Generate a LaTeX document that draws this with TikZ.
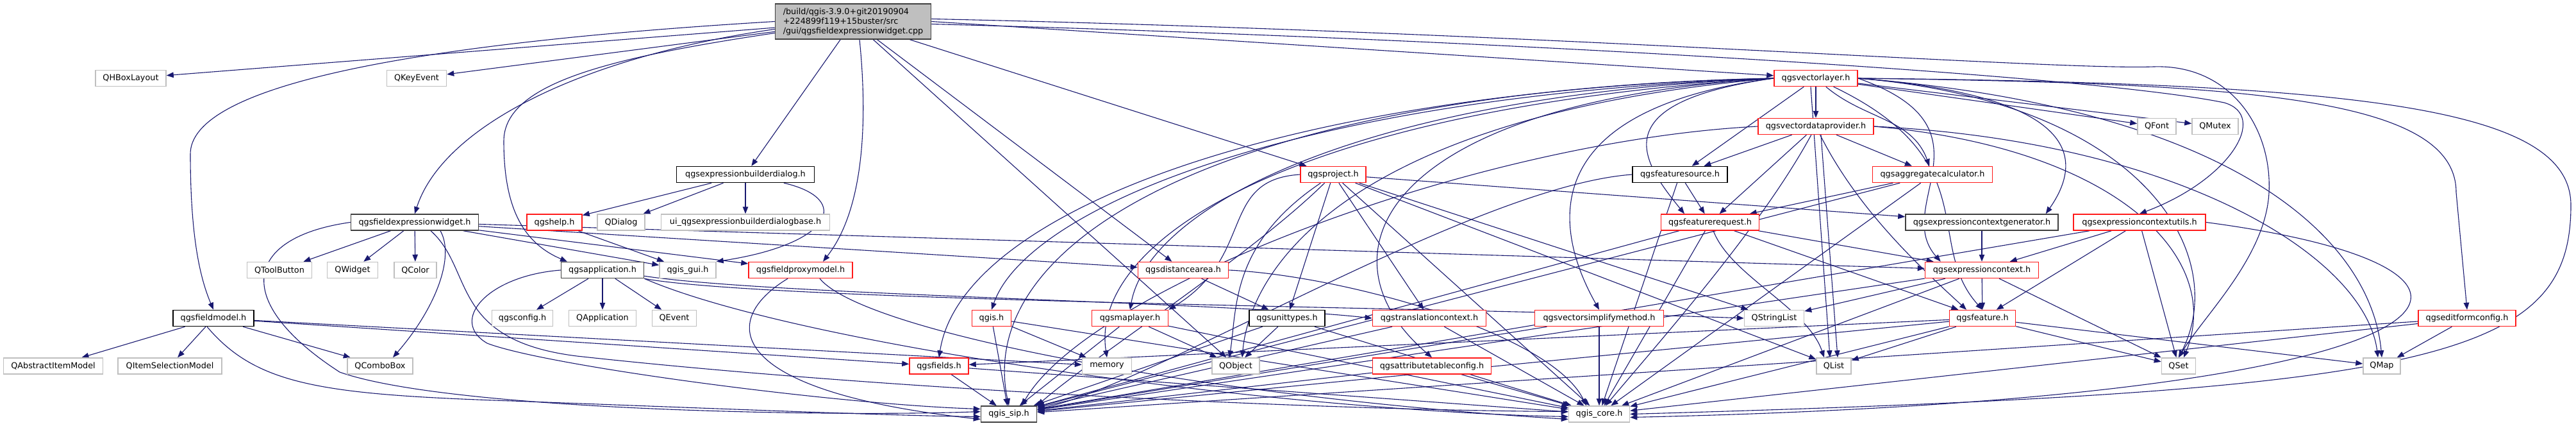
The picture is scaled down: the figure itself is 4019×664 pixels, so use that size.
\documentclass[tikz,border=0pt]{standalone}
\usepackage{fontspec}
\setmainfont{DejaVu Sans}
\usetikzlibrary{arrows.meta}
\pgfdeclarelayer{bglayer}
\pgfdeclarelayer{edgelayer}
\pgfsetlayers{bglayer,edgelayer,main}
\definecolor{edgec}{HTML}{191970}
\definecolor{gborder}{HTML}{BFBFBF}
\definecolor{rborder}{HTML}{FF1A1A}
\definecolor{dborder}{HTML}{404040}
\definecolor{rootfill}{HTML}{BFBFBF}
\newcommand\gvfont{\fontsize{12.8}{15}\selectfont}
\tikzset{
  nb/.style={draw=black, fill=white, line width=1.5pt, minimum height=25pt, inner sep=0pt, font=\gvfont},
  nr/.style={nb, draw=rborder},
  ng/.style={nb, draw=gborder},
  nd/.style={nb, draw=dborder},
  e/.style={draw=edgec, line width=1.1pt, -{Triangle[length=11pt,width=8.5pt]}}
}
\begin{document}
\begin{tikzpicture}[x=1pt,y=-1pt]
\begin{pgfonlayer}{bglayer}
\fill[white] (0,0) rectangle (4019,664);
\end{pgfonlayer}
\useasboundingbox (0,0) rectangle (4019,664);
% nodes
\node[nd, fill=rootfill, minimum width=243pt, minimum height=55pt, align=left] (root) at (1331,33.5) {/build/qgis-3.9.0+git20190904\\+224899f119+15buster/src\\/gui/qgsfieldexpressionwidget.cpp};
\node[ng, minimum width=110pt] (hbox) at (204,122) {QHBoxLayout};
\node[ng, minimum width=93pt] (keyev) at (650,122) {QKeyEvent};
\node[nr, minimum width=130pt] (vlayer) at (2833,122) {qgsvectorlayer.h};
\node[ng, minimum width=60pt] (qfont) at (3365,197) {QFont};
\node[ng, minimum width=72pt] (qmutex) at (3456,197) {QMutex};
\node[nr, minimum width=180pt] (vdp) at (2833,197) {qgsvectordataprovider.h};
\node[nb, minimum width=215pt] (bdlg) at (1163,272) {qgsexpressionbuilderdialog.h};
\node[nr, minimum width=102pt] (proj) at (2080,272) {qgsproject.h};
\node[nb, minimum width=148pt] (fsrc) at (2621,272) {qgsfeaturesource.h};
\node[nr, minimum width=187pt] (aggr) at (3015,272) {qgsaggregatecalculator.h};
\node[nd, minimum width=199pt] (few) at (647,346.5) {qgsfieldexpressionwidget.h};
\node[nr, minimum width=86pt] (help) at (865,346.5) {qgshelp.h};
\node[ng, minimum width=74pt] (qdialog) at (969,346.5) {QDialog};
\node[ng, minimum width=263pt] (uibase) at (1163,346.5) {ui\_qgsexpressionbuilderdialogbase.h};
\node[nr, minimum width=153pt] (freq) at (2668,346.5) {qgsfeaturerequest.h};
\node[nd, minimum width=238pt] (ecgen) at (3092,346.5) {qgsexpressioncontextgenerator.h};
\node[nr, minimum width=206pt] (ecutil) at (3338,346.5) {qgsexpressioncontextutils.h};
\node[ng, minimum width=101pt] (tbtn) at (436,421) {QToolButton};
\node[ng, minimum width=79pt] (qwidget) at (550,421) {QWidget};
\node[ng, minimum width=66pt] (qcolor) at (648,421) {QColor};
\node[nd, minimum width=129pt] (app) at (940,421) {qgsapplication.h};
\node[ng, minimum width=88pt] (gui) at (1073,421) {qgis\_gui.h};
\node[nr, minimum width=162pt] (fpm) at (1249,421) {qgsfieldproxymodel.h};
\node[nr, minimum width=141pt] (darea) at (1846,421) {qgsdistancearea.h};
\node[nr, minimum width=177pt] (ectx) at (3092,421) {qgsexpressioncontext.h};
\node[nb, minimum width=126pt] (fmodel) at (333,496) {qgsfieldmodel.h};
\node[ng, minimum width=95pt] (cfg) at (815,496) {qgsconfig.h};
\node[ng, minimum width=105pt] (qapp) at (940,496) {QApplication};
\node[ng, minimum width=69pt] (qevent) at (1052,496) {QEvent};
\node[nr, minimum width=61pt] (qgis) at (1547,496) {qgis.h};
\node[nr, minimum width=119pt] (mlayer) at (1763,496) {qgsmaplayer.h};
\node[nb, minimum width=118pt] (utypes) at (2008,496) {qgsunittypes.h};
\node[nr, minimum width=177pt] (tctx) at (2230,496) {qgstranslationcontext.h};
\node[nr, minimum width=201pt] (vsm) at (2495,496) {qgsvectorsimplifymethod.h};
\node[ng, minimum width=93pt] (qsl) at (2768,496) {QStringList};
\node[nr, minimum width=103pt] (feat) at (3093,496) {qgsfeature.h};
\node[nr, minimum width=152pt] (efc) at (3849,496) {qgseditformconfig.h};
\node[ng, minimum width=155pt] (aim) at (83,570.5) {QAbstractItemModel};
\node[ng, minimum width=162pt] (ism) at (265,570.5) {QItemSelectionModel};
\node[ng, minimum width=102pt] (combo) at (593,570.5) {QComboBox};
\node[nr, minimum width=92pt] (fields) at (1465,570.5) {qgsfields.h};
\node[ng, minimum width=77pt] (memory) at (1727,570.5) {memory};
\node[ng, minimum width=74pt] (qobject) at (1928,570.5) {QObject};
\node[nr, minimum width=185pt] (atc) at (2234,570.5) {qgsattributetableconfig.h};
\node[ng, minimum width=54pt] (qlist) at (2861,570.5) {QList};
\node[ng, minimum width=53pt] (qset) at (3399,570.5) {QSet};
\node[ng, minimum width=58pt] (qmap) at (3716,570.5) {QMap};
\node[nd, minimum width=87pt] (sip) at (1574,645.5) {qgis\_sip.h};
\node[ng, minimum width=95pt] (core) at (2495,645.5) {qgis\_core.h};

\begin{pgfonlayer}{edgelayer}
% root
\draw[e] (root) -- (hbox);
\draw[e] (root) -- (keyev);
\draw[e] (root.west) .. controls (600,70) and (297,140) .. (297,240) .. controls (297,380) and (315,440) .. (fmodel.north);
\draw[e] ([yshift=-12pt]root.west) .. controls (900,90) and (690,200) .. (few.north);
\draw[e] ([yshift=-18pt]root.west) .. controls (950,90) and (786,130) .. (786,220) .. controls (786,330) and (820,380) .. ([xshift=-55pt]app.north);
\draw[e] (root) -- (bdlg);
\draw[e] ([xshift=10pt]root.south) .. controls (1355,200) and (1345,330) .. ([xshift=35pt]fpm.north);
\draw[e] (root) -- (qobject);
\draw[e] (root) -- (darea);
\draw[e] (root) -- (proj);
\draw[e] (root.east) -- (vlayer);
\draw[e] ([yshift=-4pt]root.east) .. controls (2300,60) and (3250,115) .. (3470,160) .. controls (3540,180) and (3480,280) .. (ecutil.north);
\draw[e] ([yshift=4pt]root.east) .. controls (2400,50) and (3200,110) .. (3360,104) .. controls (3480,100) and (3545,200) .. (3540,300) .. controls (3535,400) and (3440,490) .. (qset.north);
% builder dialog
\draw[e] (bdlg) -- (help);
\draw[e] (bdlg) -- (qdialog);
\draw[e] (bdlg) -- (uibase);
\draw[e] ([xshift=60pt]bdlg.south) .. controls (1330,310) and (1300,380) .. (gui.north east);
\draw[e] (help) -- (gui);
% field expression widget
\draw[e] (few) -- (tbtn);
\draw[e] (few) -- (qwidget);
\draw[e] (few) -- (qcolor);
\draw[e] ([xshift=40pt]few.south) .. controls (710,400) and (680,480) .. ([xshift=20pt]combo.north);
\draw[e] (few) -- (gui);
\draw[e] (few) -- (fpm);
\draw[e] (few) -- (darea);
\draw[e] (few) -- (ectx);
\draw[e] (few.west) .. controls (380,370) and (360,470) .. (530,580) .. controls (700,640) and (1300,650) .. ([yshift=4pt]sip.west);
\draw[e] ([xshift=25pt]few.south) .. controls (740,420) and (700,530) .. (900,555) .. controls (1400,610) and (2100,640) .. ([yshift=4pt]core.west);
% field model
\draw[e] (fmodel) -- (aim);
\draw[e] (fmodel) -- (ism);
\draw[e] (fmodel) -- (combo);
\draw[e] (fmodel) -- (fields);
\draw[e] (fmodel) -- (memory);
\draw[e] ([xshift=-10pt]fmodel.south) .. controls (400,600) and (500,615) .. (800,625) .. controls (1200,640) and (1400,648) .. ([yshift=-4pt]sip.west);
% application
\draw[e] (app) -- (cfg);
\draw[e] (app) -- (qapp);
\draw[e] (app) -- (qevent);
\draw[e] (app.south east) .. controls (1200,470) and (2300,480) .. (qsl.west);
\draw[e] ([yshift=4pt]app.south east) .. controls (1200,460) and (1900,470) .. (tctx.west);
\draw[e] (app.west) .. controls (760,430) and (700,500) .. (760,535) .. controls (850,570) and (1300,630) .. ([yshift=8pt]sip.west);
\draw[e] (app.south east) .. controls (1250,540) and (2000,640) .. ([yshift=-4pt]core.west);
% field proxy model
\draw[e] ([xshift=-20pt]fpm.south) .. controls (1120,500) and (1130,610) .. ([yshift=-8pt]sip.west);
\draw[e] ([xshift=30pt]fpm.south) .. controls (1350,520) and (1900,620) .. ([yshift=-8pt]core.west);
% distance area
\draw[e] (darea) -- (utypes);
\draw[e] (darea.east) .. controls (2100,430) and (2420,520) .. ([xshift=-20pt]core.north);
% project
\draw[e] (proj) -- (utypes);
\draw[e] (proj) -- (tctx);
\draw[e] (proj) .. controls (1920,380) and (1930,480) .. ([xshift=-10pt]qobject.north);
\draw[e] (proj.west) .. controls (1900,280) and (1960,400) .. (mlayer.north east);
\draw[e] (proj) -- (ecgen);
\draw[e] (proj) -- (core);
\draw[e] (proj) .. controls (1950,400) and (1700,560) .. (sip.north east);
\draw[e] (proj) -- (qsl);
\draw[e] (proj) -- (qlist);
% vector layer
\draw[e] (vlayer) -- (vdp);
\draw[e] (vlayer) -- (fsrc);
\draw[e] (vlayer) to[out=-40,in=110] (aggr);
\draw[e] (vlayer.west) .. controls (2500,160) and (2560,250) .. ([xshift=-40pt]freq.north);
\draw[e] (vlayer.east) .. controls (3250,150) and (3250,250) .. ([xshift=-20pt]ecgen.north east);
\draw[e] (vlayer.east) .. controls (3120,200) and (2950,320) .. ([xshift=25pt]ectx.north west);
\draw[e] (vlayer) .. controls (3100,250) and (3000,380) .. (feat.north);
\draw[e] (vlayer.west) .. controls (2000,140) and (1500,330) .. (fields.north);
\draw[e] (vlayer.west) .. controls (2000,150) and (1600,330) .. (qgis.north);
\draw[e] (vlayer.west) .. controls (2100,150) and (1790,330) .. (mlayer.north);
\draw[e] (vlayer.west) .. controls (2000,170) and (1700,380) .. (memory.north);
\draw[e] (vlayer.west) .. controls (2100,180) and (1950,420) .. ([xshift=10pt]qobject.north);
\draw[e] (vlayer.west) .. controls (1900,140) and (1520,380) .. (sip.north);
\draw[e] (vlayer.west) .. controls (2150,160) and (2050,400) .. (atc.north);
\draw[e] (vlayer.west) .. controls (2400,170) and (2420,350) .. (vsm.north);
\draw[e] (vlayer) -- (qfont);
\draw[e] (vlayer) -- (qmutex);
\draw[e] ([xshift=-8pt]vlayer.south) -- ([xshift=-6pt]qlist.north);
\draw[e] (vlayer.east) .. controls (3350,160) and (3480,400) .. (qset.north);
\draw[e] (vlayer.east) .. controls (3500,170) and (3700,380) .. (qmap.north);
\draw[e] (vlayer.east) .. controls (3500,130) and (3832,150) .. (3832,300) -- (efc.north);
\draw[e] (vlayer.east) .. controls (3700,130) and (4011,170) .. (4011,320) .. controls (4011,560) and (3800,610) .. (core.east);
% vector data provider
\draw[e] (vdp) -- (fsrc);
\draw[e] (vdp) -- (freq);
\draw[e] (vdp) -- (aggr);
\draw[e] (vdp) .. controls (2900,330) and (3000,420) .. ([xshift=-25pt]feat.north);
\draw[e] ([xshift=8pt]vdp.south) -- ([xshift=6pt]qlist.north);
\draw[e] (vdp.east) .. controls (3300,230) and (3470,400) .. ([xshift=8pt]qset.north);
\draw[e] (vdp.east) .. controls (3400,220) and (3690,400) .. ([xshift=-6pt]qmap.north);
\draw[e] (vdp.west) .. controls (2300,220) and (1700,450) .. ([xshift=20pt]sip.north);
\draw[e] (vdp) .. controls (2750,350) and (2600,520) .. ([xshift=10pt]core.north);
% feature source, aggregate
\draw[e] (fsrc) -- (freq);
\draw[e] (fsrc.west) .. controls (2300,290) and (1800,600) .. ([yshift=8pt]sip.east);
\draw[e] (fsrc) -- (core);
\draw[e] (aggr) -- (freq);
\draw[e] (aggr) -- (sip);
\draw[e] (aggr) -- (core);
% feature request
\draw[e] (freq) -- (ectx);
\draw[e] (freq) -- (feat);
\draw[e] (freq) .. controls (2700,430) and (2820,480) .. ([xshift=-15pt]qlist.north);
\draw[e] (freq) -- (sip);
\draw[e] (freq) -- (core);
% expression context
\draw[e] (ecgen) -- (ectx);
\draw[e] (ecutil) -- (ectx);
\draw[e] (ecutil) -- (feat);
\draw[e] (ecutil) -- (qset);
\draw[e] (ecutil) -- (sip);
\draw[e] (ecutil.east) .. controls (4000,420) and (3900,620) .. ([yshift=-5pt]core.east);
\draw[e] (ectx) -- (feat);
\draw[e] (ectx) -- (qsl);
\draw[e] (ectx) -- (qset);
\draw[e] (ectx) -- (sip);
\draw[e] (ectx) -- (core);
% feature
\draw[e] (feat) -- (qlist);
\draw[e] (feat) -- (qmap);
\draw[e] (feat) -- (qset);
\draw[e] (feat) -- (fields);
\draw[e] (feat) -- (sip);
\draw[e] (feat) -- (core);
% lower headers
\draw[e] (efc) -- (qmap);
\draw[e] (efc) -- (sip);
\draw[e] (efc) -- (core);
\draw[e] (utypes) -- (qobject);
\draw[e] (utypes) -- (sip);
\draw[e] (utypes) -- (core);
\draw[e] (mlayer) -- (qobject);
\draw[e] (mlayer) -- (sip);
\draw[e] (mlayer) -- (core);
\draw[e] (qgis) -- (memory);
\draw[e] (qgis) -- (sip);
\draw[e] (qgis) -- (core);
\draw[e] (fields) -- (sip);
\draw[e] (fields) -- (core);
\draw[e] (tctx) -- (sip);
\draw[e] (tctx) -- (core);
\draw[e] (vsm) -- (core);
\draw[e] (vsm) -- (sip);
\draw[e] (atc) -- (sip);
\draw[e] (atc) -- (core);
\end{pgfonlayer}
\end{tikzpicture}
\end{document}
